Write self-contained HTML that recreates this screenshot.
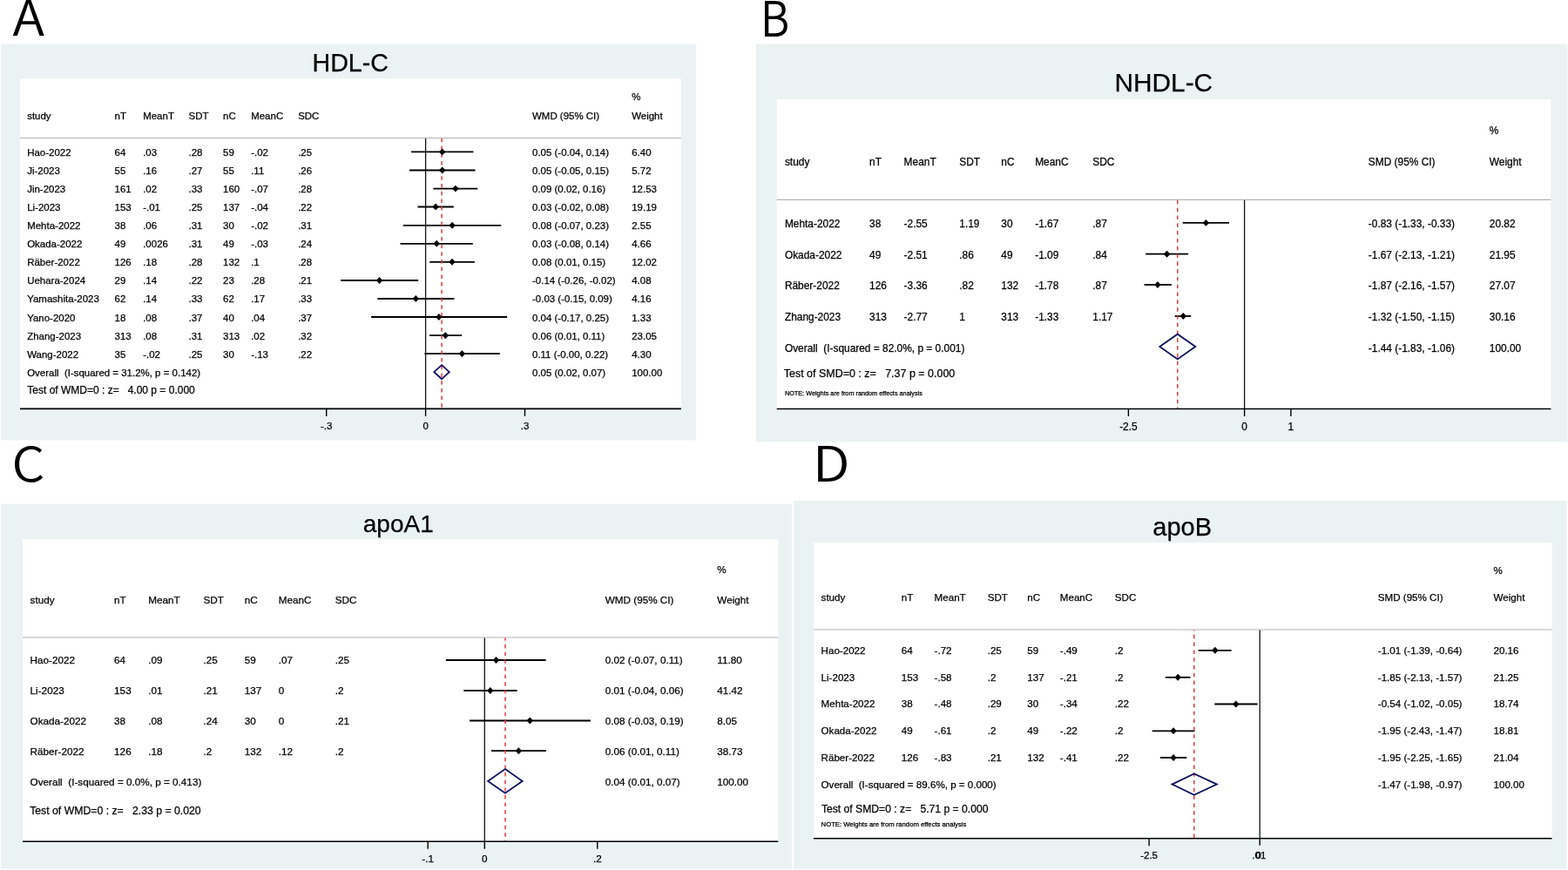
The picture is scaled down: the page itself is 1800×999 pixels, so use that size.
<!DOCTYPE html>
<html><head><meta charset="utf-8"><title>Forest plots</title>
<style>
html,body{margin:0;padding:0;background:#fff;}
body{width:1800px;height:999px;overflow:hidden;}
svg{display:block;}
text{font-family:"Liberation Sans", Arial, Helvetica, sans-serif;fill:#000;stroke:#000;stroke-width:0.25px;white-space:pre;}
text.big{fill:#000;stroke:none;font-family:"Noto Sans CJK SC", "Liberation Sans", sans-serif;font-weight:350;}
</style></head>
<body>
<svg width="1800" height="999" viewBox="0 0 1800 999">
<rect x="0" y="0" width="1800" height="999" fill="#fff"/>
<rect x="1" y="50.5" width="798.00" height="455.00" fill="#eaf2f3"/>
<rect x="23" y="90" width="759.00" height="379.40" fill="#fff"/>
<line x1="23.00" y1="158.50" x2="782.00" y2="158.50" stroke="#b4b4b4" stroke-width="1.2"/>
<text x="358.50" y="81.60" font-size="28.6">HDL-C</text>
<text x="31.20" y="137.10" font-size="11.47">study</text>
<text x="131.60" y="137.10" font-size="11.47">nT</text>
<text x="164.20" y="137.10" font-size="11.47">MeanT</text>
<text x="216.50" y="137.10" font-size="11.47">SDT</text>
<text x="256.00" y="137.10" font-size="11.47">nC</text>
<text x="288.20" y="137.10" font-size="11.47">MeanC</text>
<text x="342.20" y="137.10" font-size="11.47">SDC</text>
<text x="611.00" y="137.10" font-size="11.47">WMD (95% CI)</text>
<text x="725.20" y="137.10" font-size="11.47">Weight</text>
<text x="725.20" y="115.40" font-size="11.47">%</text>
<line x1="488.60" y1="159.10" x2="488.60" y2="469.40" stroke="#111" stroke-width="1.3"/>
<text x="31.20" y="178.60" font-size="11.47">Hao-2022</text>
<text x="131.60" y="178.60" font-size="11.47">64</text>
<text x="164.20" y="178.60" font-size="11.47">.03</text>
<text x="216.50" y="178.60" font-size="11.47">.28</text>
<text x="256.00" y="178.60" font-size="11.47">59</text>
<text x="288.20" y="178.60" font-size="11.47">-.02</text>
<text x="342.20" y="178.60" font-size="11.47">.25</text>
<text x="611.00" y="178.60" font-size="11.47">0.05 (-0.04, 0.14)</text>
<text x="725.20" y="178.60" font-size="11.47">6.40</text>
<text x="31.20" y="199.70" font-size="11.47">Ji-2023</text>
<text x="131.60" y="199.70" font-size="11.47">55</text>
<text x="164.20" y="199.70" font-size="11.47">.16</text>
<text x="216.50" y="199.70" font-size="11.47">.27</text>
<text x="256.00" y="199.70" font-size="11.47">55</text>
<text x="288.20" y="199.70" font-size="11.47">.11</text>
<text x="342.20" y="199.70" font-size="11.47">.26</text>
<text x="611.00" y="199.70" font-size="11.47">0.05 (-0.05, 0.15)</text>
<text x="725.20" y="199.70" font-size="11.47">5.72</text>
<text x="31.20" y="220.80" font-size="11.47">Jin-2023</text>
<text x="131.60" y="220.80" font-size="11.47">161</text>
<text x="164.20" y="220.80" font-size="11.47">.02</text>
<text x="216.50" y="220.80" font-size="11.47">.33</text>
<text x="256.00" y="220.80" font-size="11.47">160</text>
<text x="288.20" y="220.80" font-size="11.47">-.07</text>
<text x="342.20" y="220.80" font-size="11.47">.28</text>
<text x="611.00" y="220.80" font-size="11.47">0.09 (0.02, 0.16)</text>
<text x="725.20" y="220.80" font-size="11.47">12.53</text>
<text x="31.20" y="241.90" font-size="11.47">Li-2023</text>
<text x="131.60" y="241.90" font-size="11.47">153</text>
<text x="164.20" y="241.90" font-size="11.47">-.01</text>
<text x="216.50" y="241.90" font-size="11.47">.25</text>
<text x="256.00" y="241.90" font-size="11.47">137</text>
<text x="288.20" y="241.90" font-size="11.47">-.04</text>
<text x="342.20" y="241.90" font-size="11.47">.22</text>
<text x="611.00" y="241.90" font-size="11.47">0.03 (-0.02, 0.08)</text>
<text x="725.20" y="241.90" font-size="11.47">19.19</text>
<text x="31.20" y="263.00" font-size="11.47">Mehta-2022</text>
<text x="131.60" y="263.00" font-size="11.47">38</text>
<text x="164.20" y="263.00" font-size="11.47">.06</text>
<text x="216.50" y="263.00" font-size="11.47">.31</text>
<text x="256.00" y="263.00" font-size="11.47">30</text>
<text x="288.20" y="263.00" font-size="11.47">-.02</text>
<text x="342.20" y="263.00" font-size="11.47">.31</text>
<text x="611.00" y="263.00" font-size="11.47">0.08 (-0.07, 0.23)</text>
<text x="725.20" y="263.00" font-size="11.47">2.55</text>
<text x="31.20" y="284.10" font-size="11.47">Okada-2022</text>
<text x="131.60" y="284.10" font-size="11.47">49</text>
<text x="164.20" y="284.10" font-size="11.47">.0026</text>
<text x="216.50" y="284.10" font-size="11.47">.31</text>
<text x="256.00" y="284.10" font-size="11.47">49</text>
<text x="288.20" y="284.10" font-size="11.47">-.03</text>
<text x="342.20" y="284.10" font-size="11.47">.24</text>
<text x="611.00" y="284.10" font-size="11.47">0.03 (-0.08, 0.14)</text>
<text x="725.20" y="284.10" font-size="11.47">4.66</text>
<text x="31.20" y="305.20" font-size="11.47">Räber-2022</text>
<text x="131.60" y="305.20" font-size="11.47">126</text>
<text x="164.20" y="305.20" font-size="11.47">.18</text>
<text x="216.50" y="305.20" font-size="11.47">.28</text>
<text x="256.00" y="305.20" font-size="11.47">132</text>
<text x="288.20" y="305.20" font-size="11.47">.1</text>
<text x="342.20" y="305.20" font-size="11.47">.28</text>
<text x="611.00" y="305.20" font-size="11.47">0.08 (0.01, 0.15)</text>
<text x="725.20" y="305.20" font-size="11.47">12.02</text>
<text x="31.20" y="326.30" font-size="11.47">Uehara-2024</text>
<text x="131.60" y="326.30" font-size="11.47">29</text>
<text x="164.20" y="326.30" font-size="11.47">.14</text>
<text x="216.50" y="326.30" font-size="11.47">.22</text>
<text x="256.00" y="326.30" font-size="11.47">23</text>
<text x="288.20" y="326.30" font-size="11.47">.28</text>
<text x="342.20" y="326.30" font-size="11.47">.21</text>
<text x="611.00" y="326.30" font-size="11.47">-0.14 (-0.26, -0.02)</text>
<text x="725.20" y="326.30" font-size="11.47">4.08</text>
<text x="31.20" y="347.40" font-size="11.47">Yamashita-2023</text>
<text x="131.60" y="347.40" font-size="11.47">62</text>
<text x="164.20" y="347.40" font-size="11.47">.14</text>
<text x="216.50" y="347.40" font-size="11.47">.33</text>
<text x="256.00" y="347.40" font-size="11.47">62</text>
<text x="288.20" y="347.40" font-size="11.47">.17</text>
<text x="342.20" y="347.40" font-size="11.47">.33</text>
<text x="611.00" y="347.40" font-size="11.47">-0.03 (-0.15, 0.09)</text>
<text x="725.20" y="347.40" font-size="11.47">4.16</text>
<text x="31.20" y="368.50" font-size="11.47">Yano-2020</text>
<text x="131.60" y="368.50" font-size="11.47">18</text>
<text x="164.20" y="368.50" font-size="11.47">.08</text>
<text x="216.50" y="368.50" font-size="11.47">.37</text>
<text x="256.00" y="368.50" font-size="11.47">40</text>
<text x="288.20" y="368.50" font-size="11.47">.04</text>
<text x="342.20" y="368.50" font-size="11.47">.37</text>
<text x="611.00" y="368.50" font-size="11.47">0.04 (-0.17, 0.25)</text>
<text x="725.20" y="368.50" font-size="11.47">1.33</text>
<text x="31.20" y="389.60" font-size="11.47">Zhang-2023</text>
<text x="131.60" y="389.60" font-size="11.47">313</text>
<text x="164.20" y="389.60" font-size="11.47">.08</text>
<text x="216.50" y="389.60" font-size="11.47">.31</text>
<text x="256.00" y="389.60" font-size="11.47">313</text>
<text x="288.20" y="389.60" font-size="11.47">.02</text>
<text x="342.20" y="389.60" font-size="11.47">.32</text>
<text x="611.00" y="389.60" font-size="11.47">0.06 (0.01, 0.11)</text>
<text x="725.20" y="389.60" font-size="11.47">23.05</text>
<text x="31.20" y="410.70" font-size="11.47">Wang-2022</text>
<text x="131.60" y="410.70" font-size="11.47">35</text>
<text x="164.20" y="410.70" font-size="11.47">-.02</text>
<text x="216.50" y="410.70" font-size="11.47">.25</text>
<text x="256.00" y="410.70" font-size="11.47">30</text>
<text x="288.20" y="410.70" font-size="11.47">-.13</text>
<text x="342.20" y="410.70" font-size="11.47">.22</text>
<text x="611.00" y="410.70" font-size="11.47">0.11 (-0.00, 0.22)</text>
<text x="725.20" y="410.70" font-size="11.47">4.30</text>
<text x="31.20" y="431.90" font-size="11.47" xml:space="preserve">Overall  (I-squared = 31.2%, p = 0.142)</text>
<text x="611.00" y="431.90" font-size="11.47">0.05 (0.02, 0.07)</text>
<text x="725.20" y="431.90" font-size="11.47">100.00</text>
<text x="31.30" y="452.10" font-size="12.0" xml:space="preserve">Test of WMD=0 : z=   4.00 p = 0.000</text>
<line x1="472.10" y1="174.40" x2="543.40" y2="174.40" stroke="#000" stroke-width="1.8"/>
<line x1="470.10" y1="195.50" x2="545.50" y2="195.50" stroke="#000" stroke-width="1.8"/>
<line x1="497.40" y1="216.60" x2="548.30" y2="216.60" stroke="#000" stroke-width="1.8"/>
<line x1="479.50" y1="237.50" x2="520.80" y2="237.50" stroke="#000" stroke-width="1.8"/>
<line x1="462.80" y1="258.80" x2="575.30" y2="258.80" stroke="#000" stroke-width="1.8"/>
<line x1="459.50" y1="279.80" x2="542.80" y2="279.80" stroke="#000" stroke-width="1.8"/>
<line x1="493.20" y1="300.80" x2="544.90" y2="300.80" stroke="#000" stroke-width="1.8"/>
<line x1="391.20" y1="322.00" x2="480.10" y2="322.00" stroke="#000" stroke-width="1.8"/>
<line x1="433.40" y1="343.00" x2="521.40" y2="343.00" stroke="#000" stroke-width="1.8"/>
<line x1="426.10" y1="364.00" x2="582.10" y2="364.00" stroke="#000" stroke-width="1.8"/>
<line x1="493.10" y1="385.20" x2="530.20" y2="385.20" stroke="#000" stroke-width="1.8"/>
<line x1="487.30" y1="406.20" x2="573.80" y2="406.20" stroke="#000" stroke-width="1.8"/>
<line x1="507.10" y1="159.10" x2="507.10" y2="469.40" stroke="#e03636" stroke-width="1.45" stroke-dasharray="4.5 4.2" stroke-dashoffset="0.3"/>
<polygon points="503.95,174.40 507.70,170.45 511.45,174.40 507.70,178.35" fill="#000"/>
<polygon points="503.95,195.50 507.70,191.55 511.45,195.50 507.70,199.45" fill="#000"/>
<polygon points="519.15,216.60 522.90,212.65 526.65,216.60 522.90,220.55" fill="#000"/>
<polygon points="496.35,237.50 500.10,233.55 503.85,237.50 500.10,241.45" fill="#000"/>
<polygon points="515.45,258.80 519.20,254.85 522.95,258.80 519.20,262.75" fill="#000"/>
<polygon points="497.45,279.80 501.20,275.85 504.95,279.80 501.20,283.75" fill="#000"/>
<polygon points="515.25,300.80 519.00,296.85 522.75,300.80 519.00,304.75" fill="#000"/>
<polygon points="431.85,322.00 435.60,318.05 439.35,322.00 435.60,325.95" fill="#000"/>
<polygon points="473.55,343.00 477.30,339.05 481.05,343.00 477.30,346.95" fill="#000"/>
<polygon points="500.15,364.00 503.90,360.05 507.65,364.00 503.90,367.95" fill="#000"/>
<polygon points="507.55,385.20 511.30,381.25 515.05,385.20 511.30,389.15" fill="#000"/>
<polygon points="526.65,406.20 530.40,402.25 534.15,406.20 530.40,410.15" fill="#000"/>
<polygon points="498.30,427.20 507.10,419.20 515.80,427.20 507.10,435.20" fill="none" stroke="#101060" stroke-width="1.8" stroke-linejoin="miter"/>
<line x1="23.00" y1="469.40" x2="782.00" y2="469.40" stroke="#000" stroke-width="1.6"/>
<line x1="374.70" y1="469.40" x2="374.70" y2="477.90" stroke="#000" stroke-width="1.4"/>
<text x="374.70" y="492.60" font-size="11.47" text-anchor="middle">-.3</text>
<line x1="488.60" y1="469.40" x2="488.60" y2="477.90" stroke="#000" stroke-width="1.4"/>
<text x="488.60" y="492.60" font-size="11.47" text-anchor="middle">0</text>
<line x1="602.50" y1="469.40" x2="602.50" y2="477.90" stroke="#000" stroke-width="1.4"/>
<text x="602.50" y="492.60" font-size="11.47" text-anchor="middle">.3</text>
<rect x="868" y="50.6" width="931.40" height="456.80" fill="#eaf2f3"/>
<rect x="891.75" y="113.9" width="888.65" height="355.60" fill="#fff"/>
<line x1="891.75" y1="229.30" x2="1780.40" y2="229.30" stroke="#b4b4b4" stroke-width="1.2"/>
<text x="1279.50" y="105.30" font-size="29.8">NHDL-C</text>
<text x="900.90" y="189.90" font-size="11.92">study</text>
<text x="998.10" y="189.90" font-size="11.92">nT</text>
<text x="1037.60" y="189.90" font-size="11.92">MeanT</text>
<text x="1101.30" y="189.90" font-size="11.92">SDT</text>
<text x="1149.30" y="189.90" font-size="11.92">nC</text>
<text x="1188.20" y="189.90" font-size="11.92">MeanC</text>
<text x="1254.30" y="189.90" font-size="11.92">SDC</text>
<text x="1570.80" y="189.90" font-size="11.92">SMD (95% CI)</text>
<text x="1709.80" y="189.90" font-size="11.92">Weight</text>
<text x="1709.80" y="153.80" font-size="11.92">%</text>
<line x1="1428.60" y1="229.90" x2="1428.60" y2="469.50" stroke="#111" stroke-width="1.3"/>
<text x="900.90" y="261.25" font-size="11.92">Mehta-2022</text>
<text x="998.10" y="261.25" font-size="11.92">38</text>
<text x="1037.60" y="261.25" font-size="11.92">-2.55</text>
<text x="1101.30" y="261.25" font-size="11.92">1.19</text>
<text x="1149.30" y="261.25" font-size="11.92">30</text>
<text x="1188.20" y="261.25" font-size="11.92">-1.67</text>
<text x="1254.30" y="261.25" font-size="11.92">.87</text>
<text x="1570.80" y="261.25" font-size="11.92">-0.83 (-1.33, -0.33)</text>
<text x="1709.80" y="261.25" font-size="11.92">20.82</text>
<text x="900.90" y="296.75" font-size="11.92">Okada-2022</text>
<text x="998.10" y="296.75" font-size="11.92">49</text>
<text x="1037.60" y="296.75" font-size="11.92">-2.51</text>
<text x="1101.30" y="296.75" font-size="11.92">.86</text>
<text x="1149.30" y="296.75" font-size="11.92">49</text>
<text x="1188.20" y="296.75" font-size="11.92">-1.09</text>
<text x="1254.30" y="296.75" font-size="11.92">.84</text>
<text x="1570.80" y="296.75" font-size="11.92">-1.67 (-2.13, -1.21)</text>
<text x="1709.80" y="296.75" font-size="11.92">21.95</text>
<text x="900.90" y="332.25" font-size="11.92">Räber-2022</text>
<text x="998.10" y="332.25" font-size="11.92">126</text>
<text x="1037.60" y="332.25" font-size="11.92">-3.36</text>
<text x="1101.30" y="332.25" font-size="11.92">.82</text>
<text x="1149.30" y="332.25" font-size="11.92">132</text>
<text x="1188.20" y="332.25" font-size="11.92">-1.78</text>
<text x="1254.30" y="332.25" font-size="11.92">.87</text>
<text x="1570.80" y="332.25" font-size="11.92">-1.87 (-2.16, -1.57)</text>
<text x="1709.80" y="332.25" font-size="11.92">27.07</text>
<text x="900.90" y="368.00" font-size="11.92">Zhang-2023</text>
<text x="998.10" y="368.00" font-size="11.92">313</text>
<text x="1037.60" y="368.00" font-size="11.92">-2.77</text>
<text x="1101.30" y="368.00" font-size="11.92">1</text>
<text x="1149.30" y="368.00" font-size="11.92">313</text>
<text x="1188.20" y="368.00" font-size="11.92">-1.33</text>
<text x="1254.30" y="368.00" font-size="11.92">1.17</text>
<text x="1570.80" y="368.00" font-size="11.92">-1.32 (-1.50, -1.15)</text>
<text x="1709.80" y="368.00" font-size="11.92">30.16</text>
<text x="900.90" y="403.75" font-size="11.92" xml:space="preserve">Overall  (I-squared = 82.0%, p = 0.001)</text>
<text x="1570.80" y="403.75" font-size="11.92">-1.44 (-1.83, -1.06)</text>
<text x="1709.80" y="403.75" font-size="11.92">100.00</text>
<text x="899.75" y="432.50" font-size="12.47" xml:space="preserve">Test of SMD=0 : z=   7.37 p = 0.000</text>
<text x="900.90" y="453.70" font-size="7.29">NOTE: Weights are from random effects analysis</text>
<line x1="1357.71" y1="255.90" x2="1411.01" y2="255.90" stroke="#000" stroke-width="1.8"/>
<line x1="1315.07" y1="291.70" x2="1364.11" y2="291.70" stroke="#000" stroke-width="1.8"/>
<line x1="1313.47" y1="327.00" x2="1344.92" y2="327.00" stroke="#000" stroke-width="1.8"/>
<line x1="1348.65" y1="363.00" x2="1367.30" y2="363.00" stroke="#000" stroke-width="1.8"/>
<line x1="1351.80" y1="229.90" x2="1351.80" y2="469.50" stroke="#e03636" stroke-width="1.45" stroke-dasharray="4.6 4.2" stroke-dashoffset="0"/>
<polygon points="1380.61,255.90 1384.36,251.95 1388.11,255.90 1384.36,259.85" fill="#000"/>
<polygon points="1335.84,291.70 1339.59,287.75 1343.34,291.70 1339.59,295.65" fill="#000"/>
<polygon points="1325.18,327.00 1328.93,323.05 1332.68,327.00 1328.93,330.95" fill="#000"/>
<polygon points="1354.49,363.00 1358.24,359.05 1361.99,363.00 1358.24,366.95" fill="#000"/>
<polygon points="1331.30,398.10 1351.80,383.70 1372.30,398.10 1351.80,412.50" fill="none" stroke="#101060" stroke-width="1.8" stroke-linejoin="miter"/>
<line x1="891.75" y1="469.50" x2="1780.40" y2="469.50" stroke="#000" stroke-width="1.6"/>
<line x1="1295.40" y1="469.50" x2="1295.40" y2="478.00" stroke="#000" stroke-width="1.4"/>
<text x="1295.40" y="494.00" font-size="11.92" text-anchor="middle">-2.5</text>
<line x1="1428.60" y1="469.50" x2="1428.60" y2="478.00" stroke="#000" stroke-width="1.4"/>
<text x="1428.60" y="494.00" font-size="11.92" text-anchor="middle">0</text>
<line x1="1481.90" y1="469.50" x2="1481.90" y2="478.00" stroke="#000" stroke-width="1.4"/>
<text x="1481.90" y="494.00" font-size="11.92" text-anchor="middle">1</text>
<rect x="1" y="578.7" width="908.00" height="418.80" fill="#eaf2f3"/>
<rect x="26" y="619.5" width="867.30" height="346.80" fill="#fff"/>
<line x1="26.00" y1="732.00" x2="893.30" y2="732.00" stroke="#b4b4b4" stroke-width="1.2"/>
<text x="416.80" y="610.80" font-size="28.0">apoA1</text>
<text x="34.60" y="693.30" font-size="11.72">study</text>
<text x="131.10" y="693.30" font-size="11.72">nT</text>
<text x="170.20" y="693.30" font-size="11.72">MeanT</text>
<text x="233.40" y="693.30" font-size="11.72">SDT</text>
<text x="280.70" y="693.30" font-size="11.72">nC</text>
<text x="319.70" y="693.30" font-size="11.72">MeanC</text>
<text x="384.80" y="693.30" font-size="11.72">SDC</text>
<text x="694.70" y="693.30" font-size="11.72">WMD (95% CI)</text>
<text x="823.30" y="693.30" font-size="11.72">Weight</text>
<text x="823.30" y="658.00" font-size="11.72">%</text>
<line x1="556.30" y1="732.60" x2="556.30" y2="966.30" stroke="#111" stroke-width="1.3"/>
<text x="34.60" y="762.30" font-size="11.72">Hao-2022</text>
<text x="131.10" y="762.30" font-size="11.72">64</text>
<text x="170.20" y="762.30" font-size="11.72">.09</text>
<text x="233.40" y="762.30" font-size="11.72">.25</text>
<text x="280.70" y="762.30" font-size="11.72">59</text>
<text x="319.70" y="762.30" font-size="11.72">.07</text>
<text x="384.80" y="762.30" font-size="11.72">.25</text>
<text x="694.70" y="762.30" font-size="11.72">0.02 (-0.07, 0.11)</text>
<text x="823.30" y="762.30" font-size="11.72">11.80</text>
<text x="34.60" y="797.30" font-size="11.72">Li-2023</text>
<text x="131.10" y="797.30" font-size="11.72">153</text>
<text x="170.20" y="797.30" font-size="11.72">.01</text>
<text x="233.40" y="797.30" font-size="11.72">.21</text>
<text x="280.70" y="797.30" font-size="11.72">137</text>
<text x="319.70" y="797.30" font-size="11.72">0</text>
<text x="384.80" y="797.30" font-size="11.72">.2</text>
<text x="694.70" y="797.30" font-size="11.72">0.01 (-0.04, 0.06)</text>
<text x="823.30" y="797.30" font-size="11.72">41.42</text>
<text x="34.60" y="832.30" font-size="11.72">Okada-2022</text>
<text x="131.10" y="832.30" font-size="11.72">38</text>
<text x="170.20" y="832.30" font-size="11.72">.08</text>
<text x="233.40" y="832.30" font-size="11.72">.24</text>
<text x="280.70" y="832.30" font-size="11.72">30</text>
<text x="319.70" y="832.30" font-size="11.72">0</text>
<text x="384.80" y="832.30" font-size="11.72">.21</text>
<text x="694.70" y="832.30" font-size="11.72">0.08 (-0.03, 0.19)</text>
<text x="823.30" y="832.30" font-size="11.72">8.05</text>
<text x="34.60" y="866.80" font-size="11.72">Räber-2022</text>
<text x="131.10" y="866.80" font-size="11.72">126</text>
<text x="170.20" y="866.80" font-size="11.72">.18</text>
<text x="233.40" y="866.80" font-size="11.72">.2</text>
<text x="280.70" y="866.80" font-size="11.72">132</text>
<text x="319.70" y="866.80" font-size="11.72">.12</text>
<text x="384.80" y="866.80" font-size="11.72">.2</text>
<text x="694.70" y="866.80" font-size="11.72">0.06 (0.01, 0.11)</text>
<text x="823.30" y="866.80" font-size="11.72">38.73</text>
<text x="34.60" y="901.80" font-size="11.72" xml:space="preserve">Overall  (I-squared = 0.0%, p = 0.413)</text>
<text x="694.70" y="901.80" font-size="11.72">0.04 (0.01, 0.07)</text>
<text x="823.30" y="901.80" font-size="11.72">100.00</text>
<text x="34.20" y="934.70" font-size="12.26" xml:space="preserve">Test of WMD=0 : z=   2.33 p = 0.020</text>
<line x1="511.90" y1="758.00" x2="626.60" y2="758.00" stroke="#000" stroke-width="1.8"/>
<line x1="532.40" y1="793.00" x2="593.50" y2="793.00" stroke="#000" stroke-width="1.8"/>
<line x1="539.10" y1="827.50" x2="678.00" y2="827.50" stroke="#000" stroke-width="1.8"/>
<line x1="563.90" y1="862.20" x2="626.90" y2="862.20" stroke="#000" stroke-width="1.8"/>
<line x1="580.00" y1="732.60" x2="580.00" y2="966.30" stroke="#e03636" stroke-width="1.45" stroke-dasharray="4.4 4.25" stroke-dashoffset="1.2"/>
<polygon points="565.75,758.00 569.50,754.05 573.25,758.00 569.50,761.95" fill="#000"/>
<polygon points="559.05,793.00 562.80,789.05 566.55,793.00 562.80,796.95" fill="#000"/>
<polygon points="604.55,827.50 608.30,823.55 612.05,827.50 608.30,831.45" fill="#000"/>
<polygon points="591.65,862.20 595.40,858.25 599.15,862.20 595.40,866.15" fill="#000"/>
<polygon points="560.10,896.90 579.90,883.05 599.70,896.90 579.90,910.75" fill="none" stroke="#101060" stroke-width="1.8" stroke-linejoin="miter"/>
<line x1="26.00" y1="966.30" x2="893.30" y2="966.30" stroke="#000" stroke-width="1.6"/>
<line x1="491.20" y1="966.30" x2="491.20" y2="974.80" stroke="#000" stroke-width="1.4"/>
<text x="491.20" y="989.80" font-size="11.72" text-anchor="middle">-.1</text>
<line x1="556.30" y1="966.30" x2="556.30" y2="974.80" stroke="#000" stroke-width="1.4"/>
<text x="556.30" y="989.80" font-size="11.72" text-anchor="middle">0</text>
<line x1="685.80" y1="966.30" x2="685.80" y2="974.80" stroke="#000" stroke-width="1.4"/>
<text x="685.80" y="989.80" font-size="11.72" text-anchor="middle">.2</text>
<rect x="911.1" y="575" width="887.50" height="422.70" fill="#eaf2f3"/>
<rect x="934" y="623.2" width="847.50" height="339.60" fill="#fff"/>
<line x1="934.00" y1="723.00" x2="1781.50" y2="723.00" stroke="#b4b4b4" stroke-width="1.2"/>
<text x="1323.30" y="614.60" font-size="29.0">apoB</text>
<text x="942.60" y="690.00" font-size="11.6">study</text>
<text x="1034.80" y="690.00" font-size="11.6">nT</text>
<text x="1072.60" y="690.00" font-size="11.6">MeanT</text>
<text x="1133.70" y="690.00" font-size="11.6">SDT</text>
<text x="1179.30" y="690.00" font-size="11.6">nC</text>
<text x="1216.80" y="690.00" font-size="11.6">MeanC</text>
<text x="1279.80" y="690.00" font-size="11.6">SDC</text>
<text x="1581.80" y="690.00" font-size="11.6">SMD (95% CI)</text>
<text x="1714.50" y="690.00" font-size="11.6">Weight</text>
<text x="1714.50" y="658.60" font-size="11.6">%</text>
<line x1="1446.20" y1="723.60" x2="1446.20" y2="962.80" stroke="#111" stroke-width="1.3"/>
<text x="942.60" y="750.70" font-size="11.6">Hao-2022</text>
<text x="1034.80" y="750.70" font-size="11.6">64</text>
<text x="1072.60" y="750.70" font-size="11.6">-.72</text>
<text x="1133.70" y="750.70" font-size="11.6">.25</text>
<text x="1179.30" y="750.70" font-size="11.6">59</text>
<text x="1216.80" y="750.70" font-size="11.6">-.49</text>
<text x="1279.80" y="750.70" font-size="11.6">.2</text>
<text x="1581.80" y="750.70" font-size="11.6">-1.01 (-1.39, -0.64)</text>
<text x="1714.50" y="750.70" font-size="11.6">20.16</text>
<text x="942.60" y="781.50" font-size="11.6">Li-2023</text>
<text x="1034.80" y="781.50" font-size="11.6">153</text>
<text x="1072.60" y="781.50" font-size="11.6">-.58</text>
<text x="1133.70" y="781.50" font-size="11.6">.2</text>
<text x="1179.30" y="781.50" font-size="11.6">137</text>
<text x="1216.80" y="781.50" font-size="11.6">-.21</text>
<text x="1279.80" y="781.50" font-size="11.6">.2</text>
<text x="1581.80" y="781.50" font-size="11.6">-1.85 (-2.13, -1.57)</text>
<text x="1714.50" y="781.50" font-size="11.6">21.25</text>
<text x="942.60" y="812.20" font-size="11.6">Mehta-2022</text>
<text x="1034.80" y="812.20" font-size="11.6">38</text>
<text x="1072.60" y="812.20" font-size="11.6">-.48</text>
<text x="1133.70" y="812.20" font-size="11.6">.29</text>
<text x="1179.30" y="812.20" font-size="11.6">30</text>
<text x="1216.80" y="812.20" font-size="11.6">-.34</text>
<text x="1279.80" y="812.20" font-size="11.6">.22</text>
<text x="1581.80" y="812.20" font-size="11.6">-0.54 (-1.02, -0.05)</text>
<text x="1714.50" y="812.20" font-size="11.6">18.74</text>
<text x="942.60" y="842.90" font-size="11.6">Okada-2022</text>
<text x="1034.80" y="842.90" font-size="11.6">49</text>
<text x="1072.60" y="842.90" font-size="11.6">-.61</text>
<text x="1133.70" y="842.90" font-size="11.6">.2</text>
<text x="1179.30" y="842.90" font-size="11.6">49</text>
<text x="1216.80" y="842.90" font-size="11.6">-.22</text>
<text x="1279.80" y="842.90" font-size="11.6">.2</text>
<text x="1581.80" y="842.90" font-size="11.6">-1.95 (-2.43, -1.47)</text>
<text x="1714.50" y="842.90" font-size="11.6">18.81</text>
<text x="942.60" y="874.20" font-size="11.6">Räber-2022</text>
<text x="1034.80" y="874.20" font-size="11.6">126</text>
<text x="1072.60" y="874.20" font-size="11.6">-.83</text>
<text x="1133.70" y="874.20" font-size="11.6">.21</text>
<text x="1179.30" y="874.20" font-size="11.6">132</text>
<text x="1216.80" y="874.20" font-size="11.6">-.41</text>
<text x="1279.80" y="874.20" font-size="11.6">.22</text>
<text x="1581.80" y="874.20" font-size="11.6">-1.95 (-2.25, -1.65)</text>
<text x="1714.50" y="874.20" font-size="11.6">21.04</text>
<text x="942.60" y="905.20" font-size="11.6" xml:space="preserve">Overall  (I-squared = 89.6%, p = 0.000)</text>
<text x="1581.80" y="905.20" font-size="11.6">-1.47 (-1.98, -0.97)</text>
<text x="1714.50" y="905.20" font-size="11.6">100.00</text>
<text x="942.90" y="933.10" font-size="12.17" xml:space="preserve">Test of SMD=0 : z=   5.71 p = 0.000</text>
<text x="942.60" y="949.00" font-size="7.7">NOTE: Weights are from random effects analysis</text>
<line x1="1375.53" y1="746.80" x2="1413.66" y2="746.80" stroke="#000" stroke-width="1.8"/>
<line x1="1337.91" y1="777.80" x2="1366.38" y2="777.80" stroke="#000" stroke-width="1.8"/>
<line x1="1394.34" y1="808.50" x2="1443.66" y2="808.50" stroke="#000" stroke-width="1.8"/>
<line x1="1322.66" y1="839.30" x2="1371.47" y2="839.30" stroke="#000" stroke-width="1.8"/>
<line x1="1331.81" y1="870.00" x2="1362.31" y2="870.00" stroke="#000" stroke-width="1.8"/>
<line x1="1370.80" y1="723.60" x2="1370.80" y2="962.80" stroke="#e03636" stroke-width="1.45" stroke-dasharray="4.5 4.3" stroke-dashoffset="3.6"/>
<polygon points="1391.10,746.80 1394.85,742.85 1398.60,746.80 1394.85,750.75" fill="#000"/>
<polygon points="1348.40,777.80 1352.15,773.85 1355.90,777.80 1352.15,781.75" fill="#000"/>
<polygon points="1415.00,808.50 1418.75,804.55 1422.50,808.50 1418.75,812.45" fill="#000"/>
<polygon points="1343.31,839.30 1347.06,835.35 1350.81,839.30 1347.06,843.25" fill="#000"/>
<polygon points="1343.31,870.00 1347.06,866.05 1350.81,870.00 1347.06,873.95" fill="#000"/>
<polygon points="1345.50,900.60 1370.80,888.40 1396.90,900.60 1370.80,912.80" fill="none" stroke="#101060" stroke-width="1.8" stroke-linejoin="miter"/>
<line x1="934.00" y1="962.80" x2="1781.50" y2="962.80" stroke="#000" stroke-width="1.6"/>
<line x1="1319.10" y1="962.80" x2="1319.10" y2="971.30" stroke="#000" stroke-width="1.4"/>
<text x="1319.10" y="986.00" font-size="11.5" text-anchor="middle">-2.5</text>
<text x="1437.30" y="986.00" font-size="11.5">.01</text>
<text x="1441.50" y="986.00" font-size="11.5">0</text>
<line x1="1446.20" y1="962.80" x2="1446.20" y2="970.80" stroke="#000" stroke-width="1.4"/>
<text class="big" transform="translate(14.5,41.3) scale(1.085,1)" x="0" y="0" font-size="56">A</text>
<text class="big" transform="translate(872.85,41.5) scale(0.92,1)" x="0" y="0" font-size="56">B</text>
<text class="big" transform="translate(13.6,553.1) scale(1.08,1)" x="0" y="0" font-size="55.3">C</text>
<text class="big" transform="translate(932.8,552.9) scale(1.13,1)" x="0" y="0" font-size="55.5">D</text>
</svg>
</body></html>
